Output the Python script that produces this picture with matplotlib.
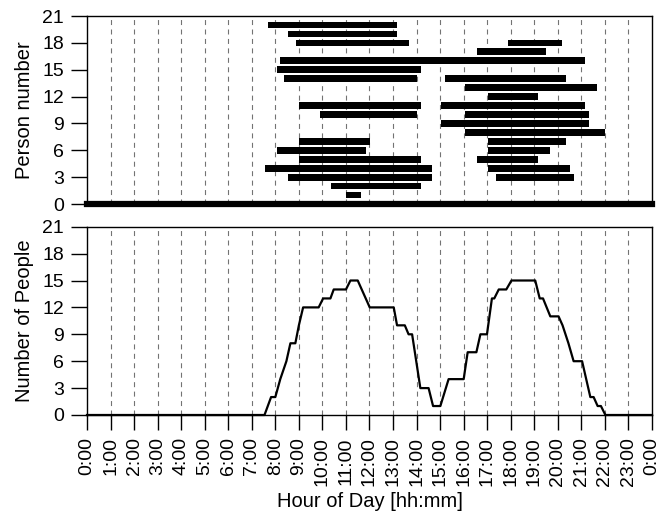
import numpy as np
import matplotlib
matplotlib.use("Agg")
import matplotlib.pyplot as plt

plt.rcParams["font.family"] = ["Liberation Sans", "DejaVu Sans"]

# occupancy intervals (person, start hour, end hour)
bar_person = [20, 19, 18, 18, 17, 16, 15, 14, 14, 13, 12, 11, 11, 10, 10, 9, 8,
              7, 7, 6, 6, 5, 5, 4, 4, 3, 3, 2, 1]
bar_start = [7.69, 8.54, 8.88, 17.89, 16.55, 8.19, 8.06, 8.36, 15.22, 16.04, 17.05,
             9.02, 15.02, 9.89, 16.04, 15.02, 16.07, 9.02, 17.05, 8.06, 17.05,
             9.02, 16.55, 7.55, 17.05, 8.54, 17.38, 10.38, 11.02]
bar_end = [13.17, 13.17, 13.66, 20.16, 19.51, 21.17, 14.17, 14.02, 20.35, 21.68, 19.16,
           14.17, 21.17, 14.02, 21.34, 21.34, 22.02, 12.01, 20.35, 11.84, 19.67,
           14.17, 19.16, 14.67, 20.5, 14.67, 20.67, 14.17, 11.66]

# number of people present over the day
count_hours = [0, 7.54, 7.82, 8.0, 8.21, 8.47, 8.64, 8.85, 9.0, 9.18, 9.84, 10.03,
               10.34, 10.48, 11.0, 11.19, 11.5, 12.01, 13.03, 13.17, 13.5, 13.66,
               13.81, 14.16, 14.51, 14.7, 15.01, 15.36, 16.0, 16.17, 16.54, 16.71,
               16.99, 17.2, 17.3, 17.49, 17.81, 18.03, 19.04, 19.23, 19.37, 19.68,
               20.03, 20.2, 20.45, 20.67, 21.03, 21.38, 21.52, 21.69, 21.83, 22.02, 24]
counts = [0, 0, 2, 2, 4, 6, 8, 8, 10, 12, 12, 13, 13, 14, 14, 15, 15, 12, 12, 10,
          10, 9, 9, 3, 3, 1, 1, 4, 4, 7, 7, 9, 9, 13, 13, 14, 14, 15, 15, 13,
          13, 11, 11, 10, 8, 6, 6, 2, 2, 1, 1, 0, 0]

hour_ticks = list(range(25))
hour_labels = [f"{h % 24}:00" for h in hour_ticks]
y_ticks = [0, 3, 6, 9, 12, 15, 18, 21]

FS_TICK = 14
FS_LABEL = 14.5

fig = plt.figure(figsize=(6.61, 5.17), dpi=100)
ax1 = fig.add_axes([0.1316, 0.6054, 0.8548, 0.3636])
ax2 = fig.add_axes([0.1316, 0.1973, 0.8548, 0.3642])

for ax in (ax1, ax2):
    ax.set_xlim(0, 24)
    ax.set_ylim(0, 21)
    for h in range(1, 24):
        ax.axvline(h, color="0.45", lw=0.8, ls=(0, (4.5, 4)), zorder=0)
    ax.set_yticks(y_ticks)
    ax.tick_params(axis="y", direction="out", length=11.5, width=1.0,
                   labelsize=FS_TICK, pad=5)
    for s in ax.spines.values():
        s.set_linewidth(1.0)

# top: individual presence
ax1.barh(bar_person, np.array(bar_end) - np.array(bar_start), left=bar_start,
         height=0.75, color="black", zorder=2)
ax1.set_xticks([])
ax1.spines["bottom"].set_linewidth(4.5)
ax1.spines["bottom"].set_capstyle("projecting")
ax1.set_ylabel("Person number", fontsize=FS_LABEL, labelpad=6)

# bottom: occupancy count
ax2.plot(count_hours, counts, color="black", lw=1.6, zorder=3, clip_on=False)
ax2.set_xticks(hour_ticks)
ax2.set_xticklabels(hour_labels, rotation=90)
ax2.tick_params(axis="x", direction="out", length=11, width=1.0,
                labelsize=FS_TICK, pad=5)
ax2.set_ylabel("Number of People", fontsize=FS_LABEL, labelpad=6)
ax2.set_xlabel("Hour of Day [hh:mm]", fontsize=FS_LABEL, labelpad=4)

fig.align_ylabels([ax1, ax2])
fig.savefig("out.png", dpi=100)
